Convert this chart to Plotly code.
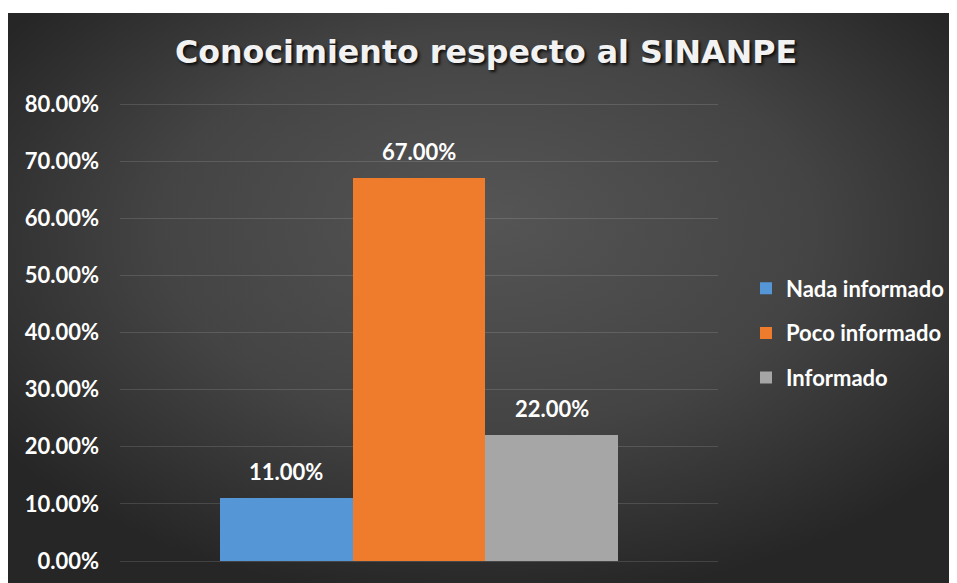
import base64
import plotly.graph_objects as go

# ---- data ----
categories = ["Nada informado", "Poco informado", "Informado"]
values = [0.11, 0.67, 0.22]
colors = ["#5597d6", "#ef7b2d", "#a6a6a6"]
title_text = "Conocimiento respecto al SINANPE"

# page is offset by the 8px body margin
OFF = 8
W, H = 957, 583
PAD = 3  # extra px so the edge gridlines (0% and 80%) are drawn
y_lo, y_hi = 0.0, 0.8
px_per_unit = (561 - 104) / (y_hi - y_lo)
ext = PAD / px_per_unit
L, R, T, B = 120 - OFF, 239 + OFF, 104 - OFF - PAD, 22 + OFF - PAD
pw, ph = W - L - R, H - T - B

# background radial gradient (dark chart area)
bx0, by0 = 8 - OFF, 13 - OFF
bw, bh = W - bx0, H - by0
svg = f'''<svg xmlns="http://www.w3.org/2000/svg" width="{bw}" height="{bh}" viewBox="0 0 {bw} {bh}" preserveAspectRatio="none">
<defs><radialGradient id="g" cx="0.5" cy="0.4" r="0.62" fx="0.5" fy="0.35">
<stop offset="0" stop-color="#555555"/><stop offset="0.55" stop-color="#444444"/><stop offset="1" stop-color="#262626"/></radialGradient></defs>
<rect width="{bw}" height="{bh}" fill="url(#g)"/></svg>'''
src = "data:image/svg+xml;base64," + base64.b64encode(svg.encode()).decode()

FONT = "Lato"
FS = 22

fig = go.Figure()
for i, (c, v, col) in enumerate(zip(categories, values, colors)):
    fig.add_trace(go.Bar(
        x=[c], y=[v], name=c, marker=dict(color=col, line=dict(width=0)),
        legendgroup=c, hoverinfo="skip"))
    fig.add_annotation(x=c, y=v, text=f"{v:.2%}", showarrow=False,
                       yanchor="bottom", yshift=11,
                       font=dict(family=FONT, size=FS, color="#ffffff", weight="bold"))

fig.add_layout_image(dict(
    source=src, xref="paper", yref="paper",
    x=(bx0 - L) / pw, y=(H - B - by0) / ph,
    sizex=bw / pw, sizey=bh / ph, sizing="stretch",
    xanchor="left", yanchor="top", layer="below"))

fig.update_layout(
    width=W, height=H,
    margin=dict(l=L, r=R, t=T, b=B, autoexpand=False),
    paper_bgcolor="#ffffff", plot_bgcolor="rgba(0,0,0,0)",
    barmode="overlay", bargap=0,
    title=dict(text=title_text, xref="container", yref="container",
               x=(486 - OFF) / W, y=1 - (52 - OFF) / H, xanchor="center", yanchor="middle",
               font=dict(family="DejaVu Sans", size=31.7, color="#f2f2f2", weight="bold",
                         shadow="2px 2px 3px rgba(0,0,0,0.8)")),
    showlegend=True,
    legend=dict(x=(746 - OFF - L) / pw, y=(H - B - (333 - OFF)) / ph,
                xanchor="left", yanchor="middle",
                bgcolor="rgba(0,0,0,0)", tracegroupgap=13, traceorder="grouped",
                font=dict(family=FONT, size=FS, color="#ffffff", weight="bold")),
    xaxis=dict(type="category", range=[-1.25, 3.25], showticklabels=False,
               showgrid=False, zeroline=False, showline=False, fixedrange=True),
    yaxis=dict(range=[y_lo - ext, y_hi + ext], dtick=0.1, tick0=0, tickformat=".2%",
               showgrid=True, gridcolor="rgba(255,255,255,0.13)", gridwidth=1,
               zeroline=False, showline=False, ticks="", ticklabelstandoff=20,
               tickfont=dict(family=FONT, size=FS, color="#ffffff", weight="bold"),
               fixedrange=True),
)

fig.write_html("out.html")
